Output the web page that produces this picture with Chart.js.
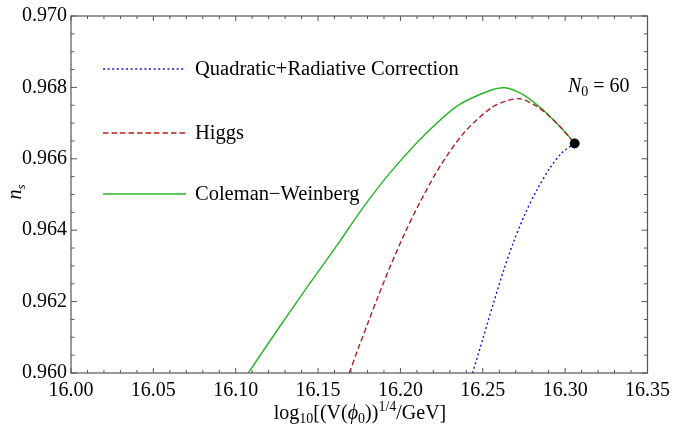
<!DOCTYPE html>
<html>
<head>
<meta charset="utf-8">
<script src="https://cdn.jsdelivr.net/npm/chart.js@4.4.1/dist/chart.umd.min.js"></script>
<style>
  html, body { margin: 0; padding: 0; background: #fff; }
</style>
</head>
<body>
<canvas id="c" width="676" height="426"></canvas>
<script>
// Quadratic + radiative correction (blue, dotted)
const quadX = [16.2438, 16.2505, 16.2565, 16.2625, 16.2686, 16.2758, 16.2830, 16.2909, 16.2981, 16.3058];
const quadY = [0.96000, 0.96103, 0.96196, 0.96285, 0.96366, 0.96447, 0.96514, 0.96575, 0.96617, 0.96643];
// Higgs (red, dashed)
const higgsX = [16.1690, 16.1744, 16.1805, 16.1865, 16.1943, 16.2026, 16.2117, 16.2242, 16.2388, 16.2549, 16.2649, 16.2728, 16.2812, 16.2891, 16.2981, 16.3058];
const higgsY = [0.96000, 0.96069, 0.96143, 0.96215, 0.96304, 0.96391, 0.96477, 0.96580, 0.96674, 0.96742, 0.96763, 0.96768, 0.96751, 0.96725, 0.96684, 0.96643];
// Coleman-Weinberg (green, solid)
const cwX = [16.1076, 16.1261, 16.1442, 16.1623, 16.1774, 16.1943, 16.2149, 16.2348, 16.2547, 16.2631, 16.2710, 16.2770, 16.2830, 16.2891, 16.2981, 16.3058];
const cwY = [0.96000, 0.96126, 0.96246, 0.96363, 0.96464, 0.96564, 0.96668, 0.96749, 0.96792, 0.96799, 0.96788, 0.96772, 0.96751, 0.96726, 0.96684, 0.96643];
// N0 = 60 end point
const endX = [16.3058];
const endY = [0.96643];

const labels = ["Quadratic+Radiative Correction", "Higgs", "Coleman\u2212Weinberg"];
const xTicks = [16.00, 16.05, 16.10, 16.15, 16.20, 16.25, 16.30, 16.35];
const yTicks = [0.960, 0.962, 0.964, 0.966, 0.968, 0.970];

const serif = "Liberation Serif";
Chart.defaults.font.family = serif;

function pts(xs, ys) {
  return xs.map((x, i) => ({ x: x, y: ys[i] }));
}

function font(p) {
  return (p.italic ? "italic " : "") + p.size + "px " + serif;
}

function drawParts(ctx, parts, x, y, align) {
  let w = 0;
  parts.forEach(p => { ctx.font = font(p); p.w = ctx.measureText(p.t).width; w += p.w; });
  let cx = align === "center" ? x - w / 2 : x;
  parts.forEach(p => {
    ctx.font = font(p);
    ctx.fillText(p.t, cx, y + (p.dy || 0));
    cx += p.w;
  });
}

// frame with inward ticks on all four sides
const framePlugin = {
  id: "frame",
  afterDraw(chart) {
    const ctx = chart.ctx;
    const a = chart.chartArea;
    const xs = chart.scales.x, ys = chart.scales.y;
    ctx.save();
    ctx.strokeStyle = "#555";
    ctx.lineWidth = 1.2;
    ctx.strokeRect(a.left, a.top, a.right - a.left, a.bottom - a.top);
    ctx.lineWidth = 1;
    ctx.beginPath();
    for (let i = 0; i <= 35; i++) {
      const px = xs.getPixelForValue(16 + i * 0.01);
      const len = i % 5 === 0 ? 5 : 3;
      ctx.moveTo(px, a.bottom); ctx.lineTo(px, a.bottom - len);
      ctx.moveTo(px, a.top); ctx.lineTo(px, a.top + len);
    }
    for (let i = 0; i <= 20; i++) {
      const py = ys.getPixelForValue(0.96 + i * 0.0005);
      const len = i % 4 === 0 ? 6 : 3.5;
      ctx.moveTo(a.left, py); ctx.lineTo(a.left + len, py);
      ctx.moveTo(a.right, py); ctx.lineTo(a.right - len, py);
    }
    ctx.stroke();
    ctx.restore();
  }
};

// legend, axis titles and annotation
const textPlugin = {
  id: "texts",
  afterDraw(chart) {
    const ctx = chart.ctx;
    ctx.save();
    ctx.fillStyle = "#000";
    ctx.textAlign = "left";
    ctx.textBaseline = "alphabetic";

    const rows = [69, 133, 194];
    chart.data.datasets.slice(0, 3).forEach((ds, i) => {
      ctx.save();
      ctx.strokeStyle = ds.borderColor;
      ctx.lineWidth = ds.borderWidth;
      ctx.setLineDash(ds.borderDash || []);
      ctx.beginPath();
      ctx.moveTo(103, rows[i]);
      ctx.lineTo(186, rows[i]);
      ctx.stroke();
      ctx.restore();
      ctx.font = "20.5px " + serif;
      ctx.textBaseline = "middle";
      ctx.fillText(ds.label, 195, rows[i] + 1);
      ctx.textBaseline = "alphabetic";
    });

    drawParts(ctx, [
      { t: "log", size: 20 },
      { t: "10", size: 14, dy: 4 },
      { t: "[(V(", size: 20 },
      { t: "\u03d5", size: 20, italic: true },
      { t: "0", size: 14, dy: 4 },
      { t: "))", size: 20 },
      { t: "1/4", size: 14, dy: -8 },
      { t: "/GeV]", size: 20 }
    ], 360, 419, "center");

    ctx.save();
    ctx.translate(21, 192);
    ctx.rotate(-Math.PI / 2);
    drawParts(ctx, [
      { t: "n", size: 20, italic: true },
      { t: "s", size: 13, italic: true, dy: 4 }
    ], 0, 0, "center");
    ctx.restore();

    drawParts(ctx, [
      { t: "N", size: 20, italic: true },
      { t: "0", size: 14, dy: 4 },
      { t: " = 60", size: 20 }
    ], 568, 92, "left");
    ctx.restore();
  }
};

new Chart(document.getElementById("c"), {
  type: "scatter",
  data: {
    datasets: [
      {
        label: labels[0], data: pts(quadX, quadY), showLine: true,
        borderColor: "rgb(20,20,210)", borderWidth: 1.4, borderDash: [2, 2.6],
        pointRadius: 0, tension: 0.3, order: 1
      },
      {
        label: labels[1], data: pts(higgsX, higgsY), showLine: true,
        borderColor: "rgb(180,30,30)", borderWidth: 1.4, borderDash: [5.5, 3],
        pointRadius: 0, tension: 0.3, order: 2
      },
      {
        label: labels[2], data: pts(cwX, cwY), showLine: true,
        borderColor: "rgb(40,180,40)", borderWidth: 1.4,
        pointRadius: 0, tension: 0.3, order: 3
      },
      {
        label: "N0", data: pts(endX, endY),
        backgroundColor: "#000", borderColor: "#000", pointRadius: 4.5, order: 0
      }
    ]
  },
  options: {
    responsive: false,
    animation: false,
    devicePixelRatio: 1,
    layout: { padding: { top: 15, right: 25, left: 0, bottom: 0 } },
    plugins: { legend: { display: false }, tooltip: { enabled: false } },
    scales: {
      x: {
        type: "linear", min: 16.0, max: 16.35,
        afterFit(s) { s.height = 53; },
        afterBuildTicks(s) { s.ticks = xTicks.map(v => ({ value: v })); },
        grid: { display: false, drawTicks: false },
        border: { display: false },
        ticks: {
          autoSkip: false, maxRotation: 0, padding: 6, color: "#000",
          font: { family: serif, size: 20 },
          callback: v => v.toFixed(2)
        }
      },
      y: {
        type: "linear", min: 0.960, max: 0.970,
        afterFit(s) { s.width = 71; },
        afterBuildTicks(s) { s.ticks = yTicks.map(v => ({ value: v })); },
        grid: { display: false, drawTicks: false },
        border: { display: false },
        ticks: {
          autoSkip: false, padding: 4, color: "#000",
          font: { family: serif, size: 20 },
          callback: v => v.toFixed(3)
        }
      }
    }
  },
  plugins: [framePlugin, textPlugin]
});
</script>
</body>
</html>
